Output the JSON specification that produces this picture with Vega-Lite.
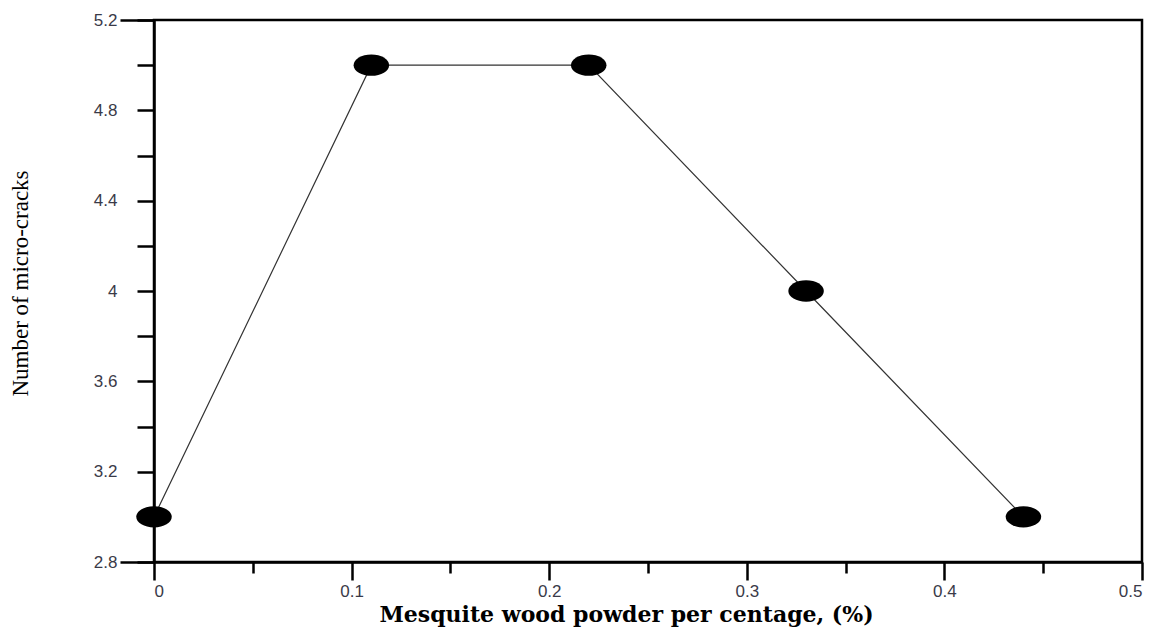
{
  "$schema": "https://vega.github.io/schema/vega-lite/v6.json",
  "width": 988,
  "height": 542,
  "autosize": {"type": "none"},
  "padding": {"left": 154, "top": 20, "right": 24, "bottom": 67},
  "background": "white",
  "config": {
    "view": {"stroke": "black", "strokeWidth": 2.5},
    "axis": {
      "domainColor": "black",
      "domainWidth": 2.5,
      "tickColor": "black",
      "tickWidth": 2.5,
      "grid": false
    }
  },
  "data": {
    "values": [
      {"pct": 0, "cracks": 3},
      {"pct": 0.11, "cracks": 5},
      {"pct": 0.22, "cracks": 5},
      {"pct": 0.33, "cracks": 4},
      {"pct": 0.44, "cracks": 3}
    ]
  },
  "layer": [
    {
      "mark": {"type": "line", "color": "#333333", "strokeWidth": 1.2},
      "encoding": {
        "x": {
          "field": "pct",
          "type": "quantitative",
          "scale": {"domain": [0, 0.5], "nice": false, "zero": false},
          "axis": {
            "values": [0, 0.1, 0.2, 0.3, 0.4, 0.5],
            "tickSize": 18,
            "labelPadding": 3,
            "labelFont": "Liberation Sans",
            "labelFontSize": 17,
            "labelColor": "#3a3a48",
            "labelExpr": "format(datum.value, '~g')",
            "title": "Mesquite wood powder per centage, (%)",
            "titleFont": "DejaVu Serif",
            "titleFontWeight": "bold",
            "titleFontSize": 22,
            "titleColor": "black",
            "titleX": 472,
            "titleY": 59,
            "titleBaseline": "alphabetic"
          }
        },
        "y": {
          "field": "cracks",
          "type": "quantitative",
          "scale": {"domain": [2.8, 5.2], "nice": false, "zero": false},
          "axis": {
            "values": [2.8, 3.0, 3.2, 3.4, 3.6, 3.8, 4.0, 4.2, 4.4, 4.6, 4.8, 5.0, 5.2],
            "tickSize": 17,
            "labelPadding": 20,
            "labelFont": "Liberation Sans",
            "labelFontSize": 17,
            "labelColor": "#3a3a48",
            "labelExpr": "round(datum.value*10) % 4 == 0 ? format(datum.value, '~g') : ''",
            "title": "Number of micro-cracks",
            "titleFont": "Liberation Serif",
            "titleFontWeight": "normal",
            "titleFontSize": 23,
            "titleColor": "black",
            "titleX": -122,
            "titleY": 263
          }
        }
      }
    },
    {
      "mark": {
        "type": "point",
        "shape": "M-1,0A1,0.6,0,1,1,1,0A1,0.6,0,1,1,-1,0Z",
        "filled": true,
        "color": "black",
        "opacity": 1,
        "size": 1260
      },
      "encoding": {
        "x": {
          "field": "pct",
          "type": "quantitative",
          "axis": {
            "orient": "bottom",
            "values": [0.05, 0.15, 0.25, 0.35, 0.45],
            "tickSize": 11,
            "labels": false,
            "domain": false,
            "title": null
          }
        },
        "y": {
          "field": "cracks",
          "type": "quantitative",
          "axis": {
            "orient": "left",
            "values": [2.8, 5.2],
            "tickSize": 34,
            "labels": false,
            "domain": false,
            "title": null
          }
        }
      }
    }
  ],
  "resolve": {"axis": {"x": "independent", "y": "independent"}}
}
